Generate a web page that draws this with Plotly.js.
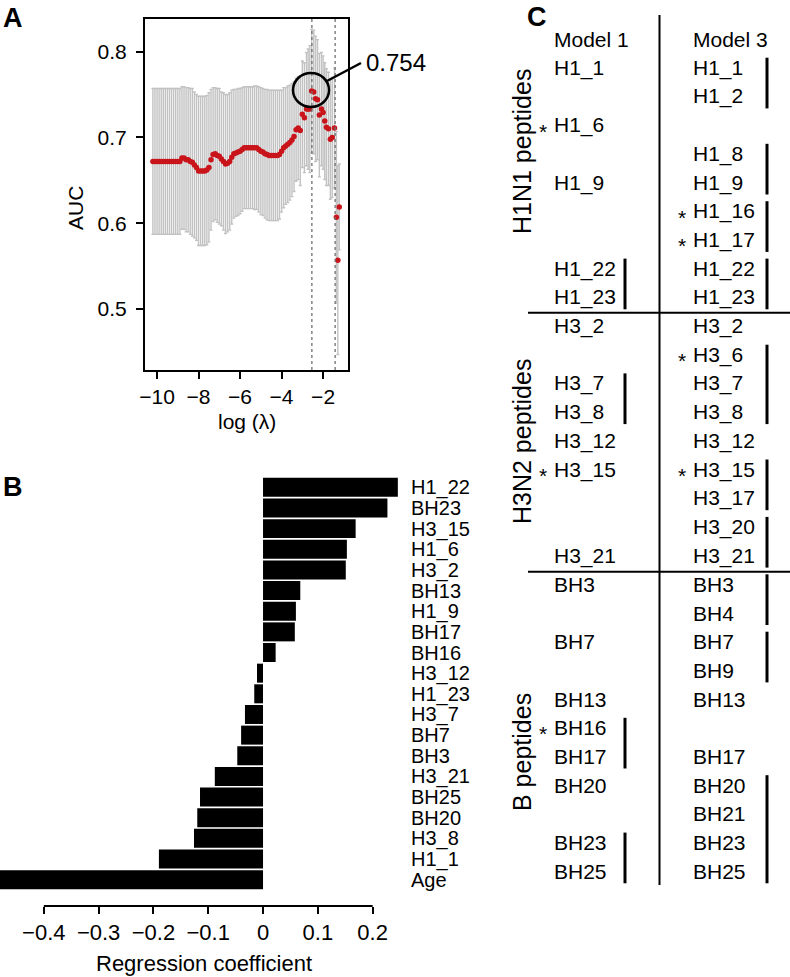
<!DOCTYPE html>
<html>
<head>
<meta charset="utf-8">
<script src="https://cdn.plot.ly/plotly-3.0.1.min.js"></script>
<style>html,body{margin:0;padding:0;background:#fff;}#chart{width:790px;height:977px;}</style>
</head>
<body>
<div id="chart"></div>
<script>
// ---------- Panel A: cross-validated AUC vs log(lambda) ----------
const logLambda = [-10.2,-10.1,-10.0,-9.9,-9.8,-9.7,-9.6,-9.5,-9.4,-9.3,-9.2,-9.1,-9.0,-8.9,
  -8.8,-8.7,-8.6,-8.5,-8.4,-8.3,-8.2,-8.1,-8.0,-7.9,-7.8,-7.7,-7.6,-7.5,-7.4,-7.3,-7.2,-7.1,-7.0,
  -6.9,-6.8,-6.7,-6.6,-6.5,-6.4,-6.3,-6.2,-6.1,-6.0,-5.9,-5.8,-5.7,-5.6,-5.5,-5.4,-5.3,-5.2,-5.1,-5.0,
  -4.9,-4.8,-4.7,-4.6,-4.5,-4.4,-4.3,-4.2,-4.1,-4.0,-3.9,-3.8,-3.7,-3.6,-3.5,-3.4,-3.3,-3.2,-3.1,-3.0,
  -2.9,-2.8,-2.72,-2.64,-2.55,-2.45,-2.36,-2.27,-2.18,-2.08,-2.0,-1.92,-1.84,-1.74,-1.65,-1.56,-1.45,
  -1.36,-1.29,-1.22];
const aucMean = [0.672,0.672,0.672,0.672,0.672,0.672,0.672,0.672,0.672,0.672,0.672,0.672,0.672,0.672,
  0.676,0.676,0.674,0.674,0.672,0.671,0.668,0.665,0.661,0.661,0.661,0.661,0.662,0.665,0.674,0.680,0.681,0.679,0.678,
  0.675,0.672,0.669,0.670,0.672,0.677,0.681,0.682,0.683,0.684,0.686,0.688,0.688,0.688,0.688,0.688,0.688,0.688,0.686,0.684,
  0.683,0.681,0.680,0.679,0.679,0.679,0.679,0.679,0.680,0.684,0.688,0.690,0.692,0.694,0.697,0.701,0.709,0.711,0.708,0.727,
  0.723,0.733,0.733,0.733,0.754,0.753,0.745,0.744,0.726,0.733,0.729,0.719,0.712,0.710,0.698,0.700,0.711,
  0.607,0.557,0.619];
const aucSE = [0.085,0.085,0.085,0.085,0.085,0.085,0.085,0.085,0.085,0.085,0.085,0.085,0.085,0.085,
  0.083,0.083,0.084,0.084,0.085,0.086,0.085,0.085,0.087,0.087,0.087,0.087,0.087,0.087,0.082,0.078,0.077,0.078,0.079,
  0.078,0.080,0.081,0.080,0.080,0.078,0.075,0.074,0.074,0.073,0.072,0.071,0.071,0.071,0.071,0.071,0.072,0.072,0.073,0.074,
  0.074,0.075,0.076,0.076,0.076,0.076,0.076,0.076,0.075,0.071,0.070,0.068,0.068,0.067,0.066,0.064,0.060,0.060,0.064,0.062,
  0.064,0.066,0.070,0.074,0.072,0.072,0.073,0.070,0.072,0.066,0.066,0.068,0.068,0.066,0.070,0.070,0.070,
  0.100,0.110,0.050];
const lambdaMinLog = -2.54;
const lambda1seLog = -1.42;
const peakLabel = '0.754';
const aTickX = [-10,-8,-6,-4,-2];
const aTickY = [0.5,0.6,0.7,0.8];

// ---------- Panel B: regression coefficients ----------
const coefLabels = ['H1_22','BH23','H3_15','H1_6','H3_2','BH13','H1_9','BH17','BH16','H3_12',
  'H1_23','H3_7','BH7','BH3','H3_21','BH25','BH20','H3_8','H1_1','Age'];
const coefValues = [0.246,0.227,0.169,0.153,0.151,0.068,0.060,0.058,0.023,-0.011,
  -0.016,-0.033,-0.040,-0.047,-0.088,-0.115,-0.120,-0.126,-0.190,-0.50];
const bTickX = [-0.4,-0.3,-0.2,-0.1,0,0.1,0.2];

// ---------- Panel C: selected peptides ----------
const colHeaders = ['Model 1','Model 3'];
const model1Rows   = [1,3,5,8,9,10,12,13,14,15,18,19,21,23,24,25,26,28,29];
const model1Labels = ['H1_1','H1_6','H1_9','H1_22','H1_23','H3_2','H3_7','H3_8','H3_12','H3_15','H3_21',
  'BH3','BH7','BH13','BH16','BH17','BH20','BH23','BH25'];
const model3Rows   = [1,2,4,5,6,7,8,9,10,11,12,13,14,15,16,17,18,19,20,21,22,23,25,26,27,28,29];
const model3Labels = ['H1_1','H1_2','H1_8','H1_9','H1_16','H1_17','H1_22','H1_23','H3_2','H3_6','H3_7','H3_8',
  'H3_12','H3_15','H3_17','H3_20','H3_21','BH3','BH4','BH7','BH9','BH13','BH17','BH20','BH21','BH23','BH25'];
const model1Starred = ['H1_6','H3_15','BH16'];
const model3Starred = ['H1_16','H1_17','H3_6','H3_15'];
const model1Groups = [[8,9],[12,13],[24,25],[28,29]];
const model3Groups = [[1,2],[4,5],[6,7],[8,9],[11,13],[15,16],[17,18],[19,20],[21,22],[26,29]];
const groupNames = ['H1N1 peptides','H3N2 peptides','B peptides'];

// ---------- drawing ----------
const W = 790, H = 977;
const FONT = 'Liberation Sans, Arial, Helvetica, sans-serif';
const PX = p => p / W;
const PY = p => 1 - p / H;
const rowY = r => 39 + 28.7 * r;

const traces = [
  {
    type: 'scatter', mode: 'markers', x: logLambda, y: aucMean, xaxis: 'x', yaxis: 'y',
    marker: {color: '#c8141a', size: 5.5},
    error_y: {type: 'data', array: aucSE, symmetric: true, color: '#c2c2c2', thickness: 1.4, width: 1.5},
    hoverinfo: 'skip'
  },
  {
    type: 'bar', orientation: 'h', x: coefValues, y: coefLabels, xaxis: 'x2', yaxis: 'y2',
    marker: {color: '#000', line: {width: 0}}, hoverinfo: 'skip'
  }
];

const shapes = [];
const annotations = [];

// Panel A extras
[lambdaMinLog, lambda1seLog].forEach(v => shapes.push({
  type: 'line', xref: 'x', yref: 'y domain', x0: v, x1: v, y0: 0, y1: 1,
  line: {color: '#707070', width: 1.3, dash: 'dot'}
}));
shapes.push({type: 'circle', xref: 'paper', yref: 'paper',
  x0: PX(293), x1: PX(329), y0: PY(107), y1: PY(73), line: {color: '#000', width: 2.5}});
shapes.push({type: 'line', xref: 'paper', yref: 'paper',
  x0: PX(327), y0: PY(81), x1: PX(361), y1: PY(63), line: {color: '#000', width: 2.5}});
annotations.push({text: peakLabel, xref: 'paper', yref: 'paper', x: PX(364), y: PY(63),
  xanchor: 'left', yanchor: 'middle', showarrow: false, font: {size: 24}});
annotations.push({text: 'AUC', xref: 'paper', yref: 'paper', x: PX(75), y: PY(208),
  xanchor: 'center', yanchor: 'middle', textangle: -90, showarrow: false, font: {size: 21}});
annotations.push({text: 'log (λ)', xref: 'paper', yref: 'paper', x: PX(247), y: PY(421),
  xanchor: 'center', yanchor: 'middle', showarrow: false, font: {size: 21}});

// Panel B extras
shapes.push({type: 'line', xref: 'x2', yref: 'paper', x0: bTickX[0], x1: bTickX[bTickX.length - 1],
  y0: PY(906), y1: PY(906), line: {color: '#000', width: 2}});
annotations.push({text: 'Regression coefficient', xref: 'paper', yref: 'paper', x: PX(204), y: PY(963),
  xanchor: 'center', yanchor: 'middle', showarrow: false, font: {size: 22}});

// Panel letters
[['A', 13, 18], ['B', 13, 487], ['C', 537, 17]].forEach(([t, x, y]) => annotations.push({
  text: '<b>' + t + '</b>', xref: 'paper', yref: 'paper', x: PX(x), y: PY(y),
  xanchor: 'center', yanchor: 'middle', showarrow: false, font: {size: 27}
}));

// Panel C table
const col1X = 552, col3X = 691, star1X = 543, star3X = 682, bar1X = 625, bar3X = 767;
annotations.push({text: colHeaders[0], xref: 'paper', yref: 'paper', x: PX(col1X), y: PY(rowY(0)),
  xanchor: 'left', yanchor: 'middle', showarrow: false, font: {size: 21}});
annotations.push({text: colHeaders[1], xref: 'paper', yref: 'paper', x: PX(col3X), y: PY(rowY(0)),
  xanchor: 'left', yanchor: 'middle', showarrow: false, font: {size: 21}});
function addCol(rows, labels, starred, x, sx) {
  rows.forEach((r, i) => {
    annotations.push({text: labels[i], xref: 'paper', yref: 'paper', x: PX(x), y: PY(rowY(r)),
      xanchor: 'left', yanchor: 'middle', showarrow: false, font: {size: 21}});
    if (starred.includes(labels[i])) {
      annotations.push({text: '*', xref: 'paper', yref: 'paper', x: PX(sx), y: PY(rowY(r) + 6),
        xanchor: 'center', yanchor: 'middle', showarrow: false, font: {size: 21}});
    }
  });
}
addCol(model1Rows, model1Labels, model1Starred, col1X, star1X);
addCol(model3Rows, model3Labels, model3Starred, col3X, star3X);
function addBrackets(groups, x) {
  groups.forEach(([a, b]) => shapes.push({type: 'line', xref: 'paper', yref: 'paper',
    x0: PX(x), x1: PX(x), y0: PY(rowY(a) - 10), y1: PY(rowY(b) + 12), line: {color: '#000', width: 3}}));
}
addBrackets(model1Groups, bar1X);
addBrackets(model3Groups, bar3X);
shapes.push({type: 'line', xref: 'paper', yref: 'paper', x0: PX(659.5), x1: PX(659.5), y0: PY(15), y1: PY(885),
  line: {color: '#000', width: 2}});
[312.7, 571.7].forEach(y => shapes.push({type: 'line', xref: 'paper', yref: 'paper',
  x0: PX(528), x1: PX(790), y0: PY(y), y1: PY(y), line: {color: '#000', width: 2}}));
const groupCenters = [152, 442, 752];
groupNames.forEach((g, i) => annotations.push({text: g, xref: 'paper', yref: 'paper', x: PX(522), y: PY(groupCenters[i]),
  xanchor: 'center', yanchor: 'middle', textangle: -90, showarrow: false, font: {size: 25}}));

const axCommon = {showgrid: false, zeroline: false, ticks: 'outside', ticklen: 7, tickwidth: 2, tickcolor: '#000',
  tickfont: {size: 21, color: '#000'}, fixedrange: true};

const layout = {
  width: W, height: H, margin: {l: 0, r: 0, t: 0, b: 0},
  paper_bgcolor: '#fff', plot_bgcolor: 'rgba(0,0,0,0)', showlegend: false,
  font: {family: FONT, size: 21, color: '#000'},
  bargap: 0.08,
  xaxis: Object.assign({}, axCommon, {domain: [PX(145), PX(348)], range: [-10.58, -0.8], tickvals: aTickX,
    showline: true, mirror: true, linewidth: 2, linecolor: '#000', anchor: 'y', ticklabelstandoff: 0}),
  yaxis: Object.assign({}, axCommon, {domain: [PY(370), PY(19)], range: [0.429, 0.838], tickvals: aTickY,
    tickformat: '.1f', showline: true, mirror: true, linewidth: 2, linecolor: '#000', anchor: 'x', ticklabelstandoff: 5}),
  xaxis2: Object.assign({}, axCommon, {domain: [0, PX(402)], range: [-0.48, 0.2536], tickvals: bTickX,
    showline: false, anchor: 'y2', tickfont: {size: 22, color: '#000'}, ticklabelstandoff: 0}),
  yaxis2: {domain: [PY(906), PY(470)], anchor: 'x2', side: 'right', type: 'category',
    tickmode: 'array', tickvals: coefLabels, ticktext: coefLabels,
    range: [20.275, -0.839], showgrid: false, zeroline: false, showline: false, ticks: '',
    tickfont: {size: 20, color: '#000'}, ticklabelstandoff: 8, fixedrange: true},
  shapes: shapes,
  annotations: annotations
};

Plotly.newPlot('chart', traces, layout, {staticPlot: true, displayModeBar: false});
</script>
</body>
</html>
